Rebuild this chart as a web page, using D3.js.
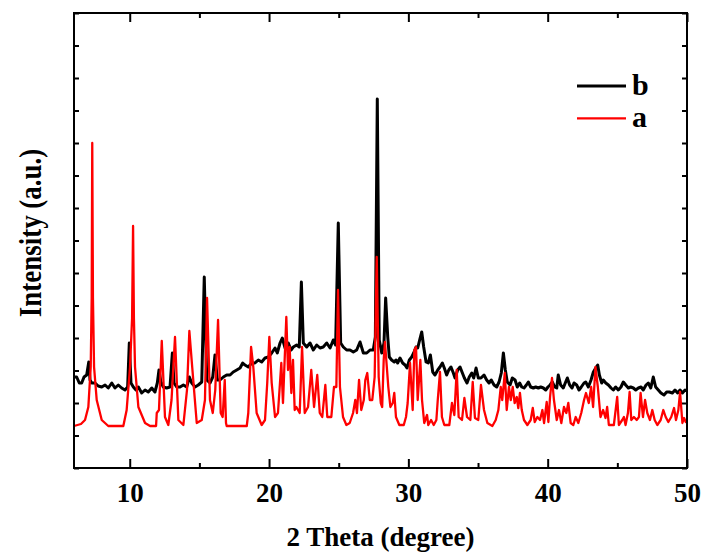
<!DOCTYPE html>
<html>
<head>
<meta charset="utf-8">
<script src="https://cdn.jsdelivr.net/npm/d3@7"></script>
<style>
  body { margin: 0; background: #fff; }
  svg text { font-family: "Liberation Serif", "Times New Roman", serif; font-weight: bold; }
</style>
</head>
<body>
<svg id="chart" width="705" height="554"></svg>
<script>
// [2 theta (deg), intensity (a.u.)]
var patternA = [
  [6.00,42],[6.50,44],[6.79,48],[7.03,61],[7.20,101],[7.27,170],[7.31,325],[7.36,170],[7.44,101],[7.63,68],[7.99,48],[8.46,42],
  [9.54,42],[9.78,58],[10.02,101],[10.17,150],[10.24,242],[10.30,150],[10.38,101],[10.62,61],[11.10,45],[11.46,42],
  [11.89,42],[11.94,55],[12.10,58],[12.30,127],[12.53,51],[12.77,43],[13.00,68],[13.25,131],[13.49,48],[13.85,43],
  [14.11,78],[14.28,137],[14.49,100],[14.81,45],[15.17,48],[15.40,68],[15.55,170],[15.76,68],[15.96,55],
  [16.14,78],[16.34,148],[16.53,55],[16.67,51],[16.82,88],[16.91,45],[16.96,42],
  [18.40,42],[18.51,55],[18.71,121],[18.87,101],[19.11,55],[19.47,43],[19.71,48],[19.87,85],[20.02,131],[20.19,85],[20.43,51],
  [20.64,55],[20.88,105],[21.00,65],[21.24,151],[21.36,98],[21.48,121],[21.60,75],[21.72,108],[21.84,58],[21.96,61],
  [22.20,55],[22.37,121],[22.56,55],[22.80,61],[23.03,98],[23.23,61],[23.46,93],[23.64,55],[23.82,51],[24.04,83],[24.18,51],
  [24.47,51],[24.66,81],[24.83,81],[24.95,178],[25.09,81],[25.31,51],[25.55,43],[25.79,45],[26.03,55],[26.19,68],[26.31,55],
  [26.46,88],[26.62,58],[26.80,68],[26.91,88],[27.05,95],[27.23,68],[27.41,68],[27.58,91],[27.73,211],[27.87,91],[28.02,65],[28.12,61],
  [28.23,108],[28.32,126],[28.47,98],[28.56,81],[28.71,61],[28.88,65],[28.99,75],[29.11,51],[29.35,43],[29.67,43],[29.83,51],[29.95,65],
  [30.12,105],[30.31,58],[30.43,118],[30.55,121],[30.67,68],[30.86,108],[30.98,68],[31.14,45],[31.34,53],[31.43,43],[31.63,48],[31.82,43],
  [32.01,48],[32.11,68],[32.27,96],[32.41,51],[32.58,43],[32.94,43],[33.13,65],[33.30,53],[33.47,98],[33.61,51],[33.85,48],[34.02,70],
  [34.21,51],[34.45,48],[34.62,86],[34.78,50],[35.02,48],[35.21,83],[35.43,58],[35.67,45],[36.03,42],[36.27,48],[36.46,58],[36.63,81],
  [36.74,68],[36.92,95],[37.06,58],[37.22,81],[37.35,68],[37.49,81],[37.63,65],[37.78,71],[37.89,60],[38.01,75],[38.14,58],[38.30,48],
  [38.54,43],[38.78,48],[38.93,60],[39.07,46],[39.26,51],[39.45,48],[39.62,58],[39.74,45],[39.93,66],[40.05,46],[40.17,71],[40.31,90],
  [40.45,68],[40.65,48],[40.81,58],[40.98,45],[41.17,61],[41.34,55],[41.48,65],[41.65,45],[41.84,43],[42.01,51],[42.20,45],[42.41,55],
  [42.61,68],[42.75,75],[42.95,65],[43.12,81],[43.26,61],[43.43,101],[43.60,81],[43.79,51],[43.98,58],[44.15,50],[44.27,61],[44.39,43],
  [44.75,43],[44.99,71],[45.11,43],[45.35,48],[45.47,51],[45.59,43],[45.76,55],[45.88,76],[46.00,48],[46.19,51],[46.39,48],[46.55,51],
  [46.67,75],[46.84,51],[46.99,68],[47.15,55],[47.34,48],[47.51,58],[47.68,48],[47.87,43],[48.11,48],[48.30,58],[48.47,51],[48.66,46],
  [48.87,51],[49.07,60],[49.21,48],[49.38,58],[49.50,76],[49.67,45],[49.79,50],[49.91,46],[50.00,46]
]

var patternB = [
  [6.00,91],[6.19,91],[6.38,85],[6.55,85],[6.72,91],[6.91,93],[7.06,106],[7.15,88],[7.27,85],[7.51,85],[7.74,82],[7.99,81],
  [8.23,83],[8.46,80],[8.71,85],[8.94,80],[9.18,83],[9.42,80],[9.66,78],[9.85,81],[9.97,125],[10.09,85],[10.26,81],[10.45,78],
  [10.62,81],[10.86,75],[11.10,78],[11.33,76],[11.58,80],[11.81,76],[11.98,85],[12.10,98],[12.24,86],[12.41,81],[12.65,80],[12.89,81],
  [13.06,115],[13.18,85],[13.37,81],[13.61,81],[13.85,83],[14.09,81],[14.28,91],[14.45,85],[14.69,81],[14.92,83],[15.17,86],[15.35,191],
  [15.53,88],[15.76,85],[15.96,91],[16.12,113],[16.29,88],[16.48,88],[16.72,91],[16.96,93],[17.20,93],[17.43,96],[17.68,98],[17.92,100],
  [18.11,105],[18.27,103],[18.51,101],[18.76,105],[18.99,105],[19.23,108],[19.47,106],[19.71,110],[19.95,111],[20.19,115],[20.43,120],[20.59,115],
  [20.79,125],[20.95,130],[21.15,120],[21.38,125],[21.58,118],[21.74,121],[21.98,123],[22.17,121],[22.32,186],[22.46,125],[22.70,121],[22.94,125],
  [23.18,118],[23.42,123],[23.66,120],[23.89,121],[24.14,125],[24.38,120],[24.61,128],[24.78,123],[24.97,245],[25.14,125],[25.33,121],[25.57,118],
  [25.81,118],[26.05,116],[26.29,118],[26.53,126],[26.77,115],[27.01,115],[27.25,118],[27.48,118],[27.63,131],[27.77,369],[27.91,128],[28.09,115],
  [28.25,125],[28.37,170],[28.52,131],[28.63,111],[28.80,108],[28.99,106],[29.11,108],[29.23,105],[29.40,110],[29.59,105],[29.76,103],[29.90,100],
  [30.07,108],[30.24,111],[30.38,115],[30.55,121],[30.67,120],[30.81,128],[30.96,136],[31.10,121],[31.27,106],[31.43,105],[31.58,113],[31.75,96],
  [31.91,93],[32.11,98],[32.27,101],[32.44,105],[32.58,100],[32.75,93],[32.90,98],[33.06,101],[33.23,95],[33.35,90],[33.54,98],[33.71,101],
  [33.85,96],[34.02,90],[34.21,85],[34.37,91],[34.55,95],[34.69,90],[34.86,100],[35.02,90],[35.21,90],[35.43,93],[35.62,88],[35.79,85],
  [35.95,88],[36.15,83],[36.34,81],[36.51,86],[36.67,95],[36.82,115],[36.96,98],[37.10,86],[37.30,83],[37.46,90],[37.66,88],[37.82,81],
  [37.99,85],[38.14,81],[38.30,80],[38.47,83],[38.61,86],[38.78,81],[38.97,80],[39.14,81],[39.33,80],[39.50,81],[39.69,80],[39.86,78],
  [40.02,81],[40.17,83],[40.33,86],[40.50,81],[40.65,80],[40.76,93],[40.93,83],[41.12,80],[41.29,86],[41.41,90],[41.58,83],[41.75,80],
  [41.89,85],[42.08,83],[42.25,78],[42.41,81],[42.61,85],[42.73,86],[42.92,81],[43.11,88],[43.28,96],[43.45,100],[43.59,103],[43.71,93],
  [43.88,85],[43.99,88],[44.17,85],[44.36,83],[44.55,80],[44.71,78],[44.88,81],[45.07,78],[45.26,81],[45.43,86],[45.60,83],[45.79,80],
  [45.96,81],[46.15,80],[46.32,78],[46.51,80],[46.70,81],[46.86,78],[47.06,83],[47.22,85],[47.40,80],[47.58,91],[47.75,81],[47.94,78],
  [48.13,75],[48.35,73],[48.54,76],[48.73,76],[48.95,75],[49.14,78],[49.33,75],[49.50,78],[49.67,75],[49.86,78],[50.00,77]
]

var majorTicks = [10, 20, 30, 40, 50]
var minorTicks = [15, 25, 35, 45]
var legendNames = ['b', 'a']
var legendColors = ['#000000', '#ff0000']

var svg = d3.select("#chart")
var margin = {left: 74, right: 18, top: 13, bottom: 86}
var width = +svg.attr("width") - margin.left - margin.right
var height = +svg.attr("height") - margin.top - margin.bottom

var x = d3.scaleLinear().domain([6, 50]).range([margin.left, margin.left + width])
var y = d3.scaleLinear().domain([0, 455]).range([margin.top + height, margin.top])
var yTicks = d3.range(0, 15).map(function(i) { return i * 455 / 14 })

var bottom = margin.top + height
var right = margin.left + width

function styleAxis(g) {
  g.select(".domain").remove()
  g.selectAll("line").attr("stroke", "#000").attr("stroke-width", 2)
}

// bottom axis with labels
svg.append("g")
   .attr("transform", "translate(0," + bottom + ")")
   .call(d3.axisBottom(x).tickValues(majorTicks).tickSize(-9).tickFormat(d3.format("d")))
   .call(styleAxis)
   .selectAll("text")
   .attr("y", 34).attr("dy", null)
   .style("font-size", "27px").attr("fill", "#000")
svg.append("g")
   .attr("transform", "translate(0," + bottom + ")")
   .call(d3.axisBottom(x).tickValues(minorTicks).tickSize(-5).tickFormat(""))
   .call(styleAxis)

// top axis, no labels
svg.append("g")
   .attr("transform", "translate(0," + margin.top + ")")
   .call(d3.axisTop(x).tickValues(majorTicks).tickSize(-9).tickFormat(""))
   .call(styleAxis)
svg.append("g")
   .attr("transform", "translate(0," + margin.top + ")")
   .call(d3.axisTop(x).tickValues(minorTicks).tickSize(-5).tickFormat(""))
   .call(styleAxis)

// left and right
svg.append("g")
   .attr("transform", "translate(" + margin.left + ",0)")
   .call(d3.axisLeft(y).tickValues(yTicks).tickSize(-5).tickFormat(""))
   .call(styleAxis)
svg.append("g")
   .attr("transform", "translate(" + right + ",0)")
   .call(d3.axisRight(y).tickValues(yTicks).tickSize(-5).tickFormat(""))
   .call(styleAxis)

var line = d3.line()
  .x(function(d) { return x(d[0]) })
  .y(function(d) { return y(d[1]) })

svg.append("path")
   .datum(patternB)
   .attr("d", line)
   .attr("fill", "none")
   .attr("stroke", legendColors[0])
   .attr("stroke-width", 3)
   .attr("stroke-linejoin", "round")

svg.append("path")
   .datum(patternA)
   .attr("d", line)
   .attr("fill", "none")
   .attr("stroke", legendColors[1])
   .attr("stroke-width", 2.3)
   .attr("stroke-linejoin", "round")

// frame
svg.append("rect")
   .attr("x", margin.left).attr("y", margin.top)
   .attr("width", width).attr("height", height)
   .attr("fill", "none").attr("stroke", "#000").attr("stroke-width", 2)

// axis titles
svg.append("text")
   .attr("x", (margin.left + right) / 2).attr("y", 546)
   .attr("text-anchor", "middle")
   .style("font-size", "27px")
   .text("2 Theta (degree)")

svg.append("text")
   .attr("transform", "translate(41,233) rotate(-90) scale(1,1.15)")
   .attr("text-anchor", "middle")
   .style("font-size", "27px")
   .text("Intensity (a.u.)")

// legend
legendNames.forEach(function(name, i) {
  var ly = 86 + i * 32.3
  svg.append("line")
     .attr("x1", 577).attr("x2", 626)
     .attr("y1", ly).attr("y2", ly)
     .attr("stroke", legendColors[i])
     .attr("stroke-width", i == 0 ? 3 : 2.3)
  svg.append("text")
     .attr("x", 632).attr("y", ly + 9)
     .style("font-size", "30px")
     .text(name)
})
</script>
</body>
</html>
